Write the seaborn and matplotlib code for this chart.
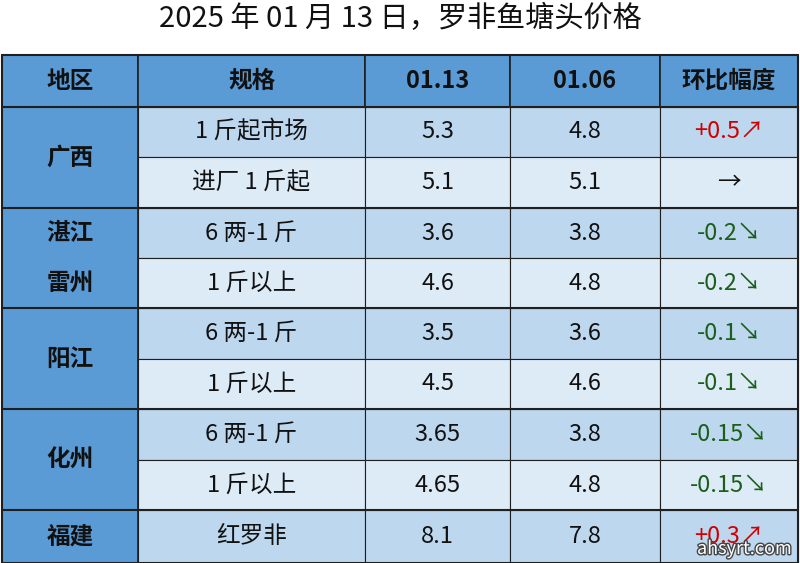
import matplotlib
matplotlib.use("Agg")
import matplotlib.pyplot as plt
import matplotlib.patheffects as pe
import seaborn as sns
import pandas as pd
from matplotlib.patches import Rectangle

sns.set_theme(style="white")
plt.rcParams['font.family'] = ['Noto Sans CJK SC', 'DejaVu Sans']

title = "2025 年 01 月 13 日，罗非鱼塘头价格"
headers = ["地区", "规格", "01.13", "01.06", "环比幅度"]
regions = ["广西", "湛江\n雷州", "阳江", "化州", "福建"]
region_spans = [2, 2, 2, 2, 1]
specs = ["1 斤起市场", "进厂 1 斤起", "6 两-1 斤", "1 斤以上", "6 两-1 斤", "1 斤以上",
         "6 两-1 斤", "1 斤以上", "红罗非"]
price_0113 = ["5.3", "5.1", "3.6", "4.6", "3.5", "4.5", "3.65", "4.65", "8.1"]
price_0106 = ["4.8", "5.1", "3.8", "4.8", "3.6", "4.6", "3.8", "4.8", "7.8"]
changes = ["+0.5↗", "→", "-0.2↘", "-0.2↘", "-0.1↘", "-0.1↘", "-0.15↘", "-0.15↘", "+0.3↗"]

df = pd.DataFrame({"spec": specs, "p1": price_0113, "p0": price_0106, "chg": changes})

fig = plt.figure(figsize=(8, 5.63), dpi=100)
ax = fig.add_axes([0, 0, 1, 1])
ax.set_xlim(0, 800)
ax.set_ylim(563, 0)
ax.axis("off")

cols = [2, 138, 365, 510, 660, 798]
rows = [55, 107, 157, 208, 258, 308, 359, 409, 460, 510, 563]
dark = "#5b9bd5"
lightA = "#bdd7ee"
lightB = "#ddebf7"
edge = "#1f1f1f"
fs = 17

def spaced(s):
    return s

ax.text(400, 19, title, ha="center", va="center", fontsize=21, color="#111111")

for i, h in enumerate(headers):
    ax.add_patch(Rectangle((cols[i], rows[0]), cols[i+1]-cols[i], rows[1]-rows[0],
                           facecolor=dark, edgecolor=edge, lw=1.2))
    ax.text((cols[i]+cols[i+1])/2, (rows[0]+rows[1])/2, h, ha="center", va="center",
            fontsize=fs, fontweight="bold", color="#111111")

r = 1
for reg, span in zip(regions, region_spans):
    y0, y1 = rows[r], rows[r+span]
    ax.add_patch(Rectangle((cols[0], y0), cols[1]-cols[0], y1-y0,
                           facecolor=dark, edgecolor=edge, lw=1.2))
    cx = (cols[0]+cols[1])/2
    if "\n" in reg:
        a, b = reg.split("\n")
        ax.text(cx, (rows[r]+rows[r+1])/2, a, ha="center", va="center",
                fontsize=fs, fontweight="bold", color="#111111")
        ax.text(cx, (rows[r+1]+rows[r+2])/2, b, ha="center", va="center",
                fontsize=fs, fontweight="bold", color="#111111")
    else:
        ax.text(cx, (y0+y1)/2, reg, ha="center", va="center",
                fontsize=fs, fontweight="bold", color="#111111")
    r += span

for k, row in df.iterrows():
    y0, y1 = rows[k+1], rows[k+2]
    fc = lightA if k % 2 == 0 else lightB
    vals = [row.spec, row.p1, row.p0, row.chg]
    for j, v in enumerate(vals):
        ax.add_patch(Rectangle((cols[j+1], y0), cols[j+2]-cols[j+1], y1-y0,
                               facecolor=fc, edgecolor=edge, lw=0.8))
        color = "#111111"
        if j == 3:
            color = "#d00000" if v.startswith("+") else ("#1a5e1a" if v.startswith("-") else "#111111")
        ax.text((cols[j+1]+cols[j+2])/2, (y0+y1)/2, v, ha="center", va="center",
                fontsize=fs, color=color)

for yy in [55, 107, 208, 308, 409, 510, 563]:
    ax.plot([cols[0], cols[-1]], [yy, yy], color=edge, lw=1.5)
for xx in [cols[0], cols[-1]]:
    ax.plot([xx, xx], [rows[0], rows[-1]], color=edge, lw=1.5)

ax.text(792, 549, "ahsyrt.com", ha="right", va="center", fontsize=13, color="#ffffff",
        path_effects=[pe.withStroke(linewidth=2, foreground="#444444")])

fig.savefig("out.png", dpi=100)
